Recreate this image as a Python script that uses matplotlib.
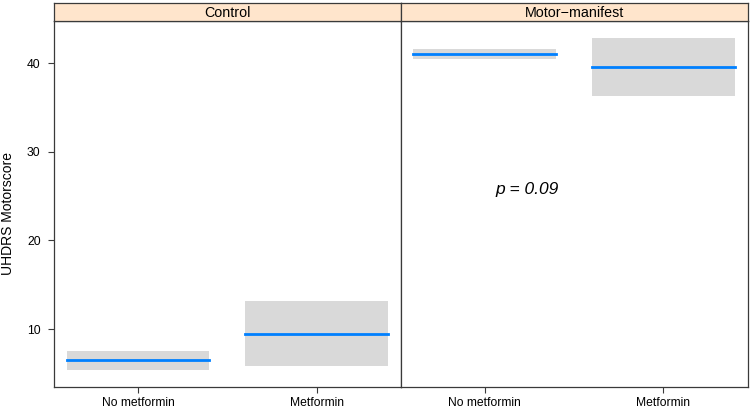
import matplotlib
matplotlib.use("Agg")
import matplotlib.pyplot as plt

plt.rcParams['font.family'] = ['Liberation Sans', 'DejaVu Sans']

# data
panels = ['Control', 'Motor\u2212manifest']
groups = ['No metformin', 'Metformin']
fit = [[6.47, 9.47], [41.02, 39.62]]
lower = [[5.34, 5.78], [40.45, 36.3]]
upper = [[7.55, 13.13], [41.58, 42.9]]
yticks = [10, 20, 30, 40]

fig = plt.figure(figsize=(7.5, 4.11), dpi=100)

frame_col = '#3a3a3a'
band_col = '#d9d9d9'
line_col = '#0080ff'
strip_col = '#ffe5cc'

x0, x1 = 54 / 750, 400.5 / 750
x2 = 747.5 / 750
bot, top = 1 - 387.3 / 411, 1 - 20.7 / 411
strip_top = 1 - 2.7 / 411
lefts = [x0, x1]
widths = [x1 - x0, x2 - x1]

for i, name in enumerate(panels):
    ax = fig.add_axes([lefts[i], bot, widths[i], top - bot])
    xs = [1, 2]
    for j in range(len(groups)):
        ax.fill_between([xs[j] - 0.4, xs[j] + 0.4], lower[i][j], upper[i][j],
                        color=band_col, lw=0)
        ax.plot([xs[j] - 0.4, xs[j] + 0.4], [fit[i][j], fit[i][j]],
                color=line_col, lw=2, solid_capstyle='projecting')
    ax.set_xlim(0.53, 2.47)
    ax.set_ylim(3.42, 44.81)
    ax.set_xticks(xs)
    ax.set_xticklabels(groups, fontsize=8.7)
    ax.tick_params(axis='x', direction='out', length=4.3, pad=3, color=frame_col)
    if i == 0:
        ax.set_yticks(yticks)
        ax.tick_params(axis='y', direction='out', length=4.3, pad=5.3,
                       labelsize=8.7, color=frame_col)
    else:
        ax.set_yticks([])
    for s in ax.spines.values():
        s.set_color(frame_col)
        s.set_linewidth(0.9)

    # strip on top of the panel
    sax = fig.add_axes([lefts[i], top, widths[i], strip_top - top])
    sax.set_facecolor(strip_col)
    sax.set_xticks([])
    sax.set_yticks([])
    for s in sax.spines.values():
        s.set_color(frame_col)
        s.set_linewidth(0.9)
    sax.text(0.5, 0.45, name, ha='center', va='center', fontsize=10.3,
             transform=sax.transAxes)

    if i == 1:
        ax.text(1.24, 25.7, 'p = 0.09', style='italic', fontsize=12.5,
                ha='center', va='center')

fig.text(8 / 750, 1 - 213.5 / 411, 'UHDRS Motorscore', rotation=90,
         ha='center', va='center', fontsize=10)

fig.savefig('out.png', dpi=100)
